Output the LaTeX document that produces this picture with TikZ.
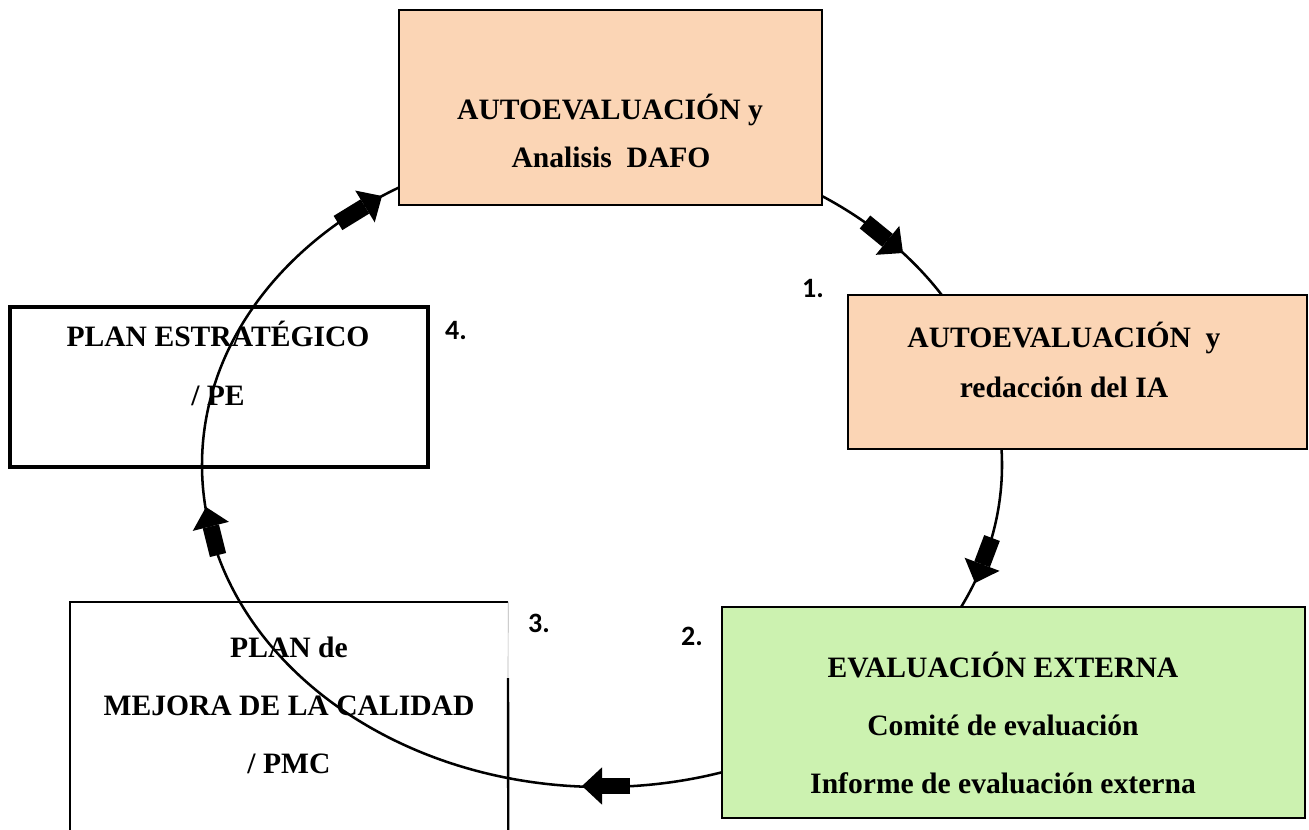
\documentclass[tikz,border=0pt]{standalone}
\usepackage{fontspec}
\setmainfont{Liberation Serif}
\newfontfamily\numfont{Carlito}
\usetikzlibrary{arrows.meta}
\definecolor{peach}{RGB}{251,213,181}
\definecolor{lgreen}{RGB}{204,242,176}
\begin{document}
\begin{tikzpicture}[x=0.75pt,y=-0.75pt,
  boxtext/.style={anchor=base, inner sep=0pt, font=\fontsize{22.2}{26}\selectfont\bfseries},
  numlabel/.style={inner sep=0pt, font=\numfont\fontsize{21}{25}\selectfont\bfseries},
  cycleline/.style={line width=1.9pt},
  blockarrow/.style={line width=12.5pt, -{Triangle[length=15pt,width=28pt,line width=0pt]}},
  peachbox/.style={draw, line width=1.9pt, fill=peach, inner sep=0pt},
  greenbox/.style={draw, line width=2.2pt, fill=lgreen, inner sep=0pt},
  whitebox/.style={draw, line width=2.4pt, inner sep=0pt}]
\useasboundingbox (0,0) rectangle (1309,830);

% white boxes (under the cycle line)
\node[whitebox, minimum width=313.5pt, minimum height=120pt] (pe) at (219,387) {};
\node[boxtext] (pe1) at (218,347) {PLAN ESTRATÉGICO};
\node[boxtext] (pe2) at (218,405) {/ PE};

\node[inner sep=0pt, minimum width=328.5pt, minimum height=171pt] (pmc) at (289,716) {};
\coordinate (pmcbreak) at (508,678);
\draw[line width=1.8pt] (pmc.south west) -- (pmc.north west) -- (pmc.north east);
\draw[line width=0.5pt, black!30] (pmc.north east) -- (pmcbreak);
\draw[line width=1.8pt] (pmcbreak) -- (pmc.south east);
\node[boxtext] (pmc1) at (289,657) {PLAN de};
\node[boxtext] (pmc2) at (289,715) {MEJORA DE LA CALIDAD};
\node[boxtext] (pmc3) at (289,773) {/ PMC};

% cycle
\coordinate (cc) at (602,465);
\draw[cycleline] (cc) ellipse [x radius=300pt, y radius=241.5pt];

% block arrows along the cycle
\coordinate (a1s) at (338,223); \coordinate (a1e) at (382,196);
\coordinate (a2s) at (865,222); \coordinate (a2e) at (903,253);
\coordinate (a3s) at (992,538); \coordinate (a3e) at (975,583);
\coordinate (a4s) at (630,786); \coordinate (a4e) at (582,786);
\coordinate (a5s) at (218,555); \coordinate (a5e) at (206,507);
\draw[blockarrow] (a1s) -- (a1e);
\draw[blockarrow] (a2s) -- (a2e);
\draw[blockarrow] (a3s) -- (a3e);
\draw[blockarrow] (a4s) -- (a4e);
\draw[blockarrow] (a5s) -- (a5e);

% coloured boxes (over the cycle line)
\node[peachbox, minimum width=317.25pt, minimum height=146.25pt] (top) at (610.5,107.5) {};
\node[boxtext] (top1) at (610,120) {AUTOEVALUACIÓN y};
\node[boxtext] (top2) at (611,168) {Analisis~~DAFO};

\node[peachbox, minimum width=344.25pt, minimum height=115.5pt] (ia) at (1077.5,372) {};
\node[boxtext] (ia1) at (1064,348) {AUTOEVALUACIÓN~~y};
\node[boxtext] (ia2) at (1064,397) {redacción del IA};

\node[greenbox, minimum width=437.25pt, minimum height=158.25pt] (ext) at (1013.5,712.5) {};
\node[boxtext] (ext1) at (1003,677) {EVALUACIÓN EXTERNA};
\node[boxtext] (ext2) at (1003,735) {Comité de evaluación};
\node[boxtext] (ext3) at (1003,793) {Informe de evaluación externa};

% step numbers
\node[numlabel] (n1) at (813,289) {1.};
\node[numlabel] (n2) at (692,636) {2.};
\node[numlabel] (n3) at (539,623) {3.};
\node[numlabel] (n4) at (456,331) {4.};
\end{tikzpicture}
\end{document}
